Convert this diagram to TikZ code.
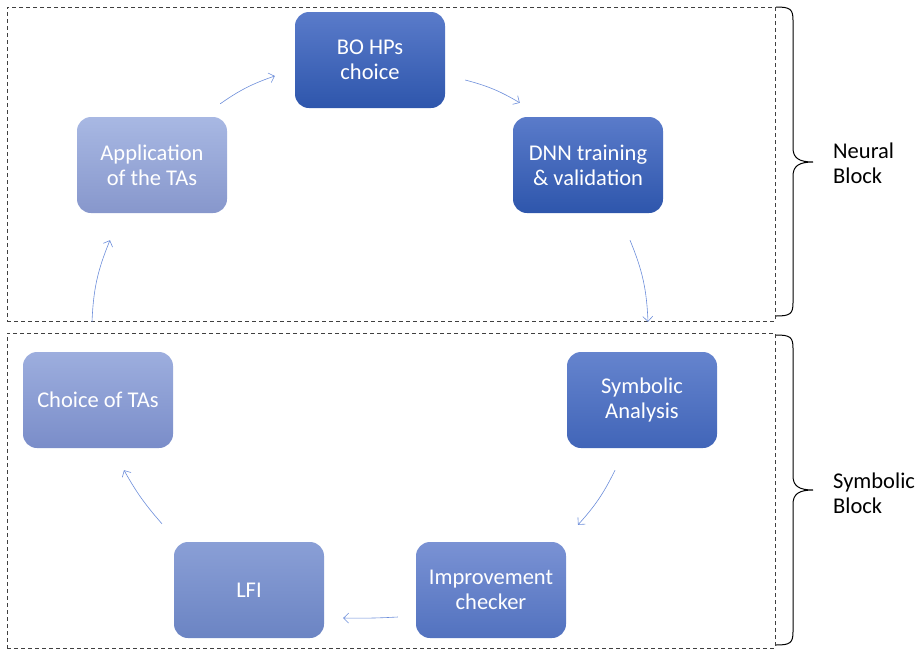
\documentclass[tikz,border=0pt]{standalone}
\usepackage{fontspec}
\setmainfont{Carlito}
\usetikzlibrary{arrows.meta}
\definecolor{arrc}{HTML}{6C8DDA}
\definecolor{dashc}{HTML}{404040}
\definecolor{darkT}{HTML}{5A7BCA}
\definecolor{darkB}{HTML}{2E56AC}
\definecolor{appT}{HTML}{A8B8E3}
\definecolor{appB}{HTML}{8797CC}
\definecolor{choT}{HTML}{9DAEDE}
\definecolor{choB}{HTML}{7A8DC9}
\definecolor{symT}{HTML}{6584CE}
\definecolor{symB}{HTML}{4165B8}
\definecolor{impT}{HTML}{7A92D4}
\definecolor{impB}{HTML}{5272BF}
\definecolor{lfiT}{HTML}{8A9FD6}
\definecolor{lfiB}{HTML}{6B84C3}
\tikzset{
  box/.style={rounded corners=14pt, minimum width=150pt, minimum height=96pt,
    text=white, align=center, font=\fontsize{22.5}{25}\selectfont, inner sep=0pt},
  arr/.style={draw=arrc, line width=0.6pt, -{Straight Barb[length=5pt,width=10pt]}},
  blockframe/.style={draw=dashc, line width=0.9pt, dash pattern=on 4pt off 3pt},
  brace/.style={draw=black, line width=1pt},
  lbl/.style={anchor=west, align=left, font=\fontsize{22.5}{25}\selectfont, inner sep=0pt}
}
\begin{document}
\begin{tikzpicture}[x=1pt,y=-1pt]
\useasboundingbox (0,0) rectangle (922,649);
% frames
\node[blockframe, minimum width=768pt, minimum height=314pt, inner sep=0pt] (nframe) at (391,164) {};
\node[blockframe, minimum width=768pt, minimum height=315pt, inner sep=0pt] (sframe) at (391,490.5) {};
% boxes
\node[box, top color=darkT, bottom color=darkB] (bo) at (370,60) {BO HPs\\choice};
\node[box, top color=darkT, bottom color=darkB] (dnn) at (588,165) {DNN training\\\& validation};
\node[box, top color=appT, bottom color=appB] (app) at (152,165) {Application\\of the TAs};
\node[box, top color=choT, bottom color=choB] (choice) at (98,400) {Choice of TAs};
\node[box, top color=symT, bottom color=symB] (sym) at (642,400) {Symbolic\\Analysis};
\node[box, top color=impT, bottom color=impB] (imp) at (491,590) {Improvement\\checker};
\node[box, top color=lfiT, bottom color=lfiB] (lfi) at (249,590) {LFI};
% connectors
\draw[arr] ([shift={(-7,-13)}]app.north east) to[bend left=8] ([shift={(-20,16)}]bo.west);
\draw[arr] ([shift={(20,20)}]bo.east) to[bend left=8] ([shift={(7,-14)}]dnn.north west);
\draw[arr] ([shift={(42,27)}]dnn.south) to[bend left=10] ([shift={(6,-30)}]sym.north);
\draw[arr] ([shift={(-27,22)}]sym.south) to[bend left=8] ([shift={(87,-17)}]imp.north);
\draw[arr] ([shift={(-18,27)}]imp.west) to[bend left=2] ([shift={(19,28)}]lfi.east);
\draw[arr] ([shift={(-87,-18)}]lfi.north) to[bend left=6] ([shift={(26,22)}]choice.south);
\draw[arr] ([shift={(-6,-30)}]choice.north) to[bend left=10] ([shift={(-42,27)}]app.south);
% braces
\coordinate (nb) at (813,162);
\coordinate (sb) at (813,490);
\draw[brace] (776,7) .. controls (790,7) and (793,9) .. (793,20) -- (793,148)
  .. controls (793,158) and (799,162) .. (nb)
  (nb) .. controls (799,162) and (793,166) .. (793,176) -- (793,303)
  .. controls (793,314) and (790,316) .. (776,316);
\draw[brace] (776,335) .. controls (790,335) and (793,337) .. (793,348) -- (793,476)
  .. controls (793,486) and (799,490) .. (sb)
  (sb) .. controls (799,490) and (793,494) .. (793,504) -- (793,632)
  .. controls (793,643) and (790,645) .. (776,645);
\node[lbl] (nl) at (833,163) {Neural\\Block};
\node[lbl] (sl) at (833,493) {Symbolic\\Block};
\end{tikzpicture}
\end{document}
